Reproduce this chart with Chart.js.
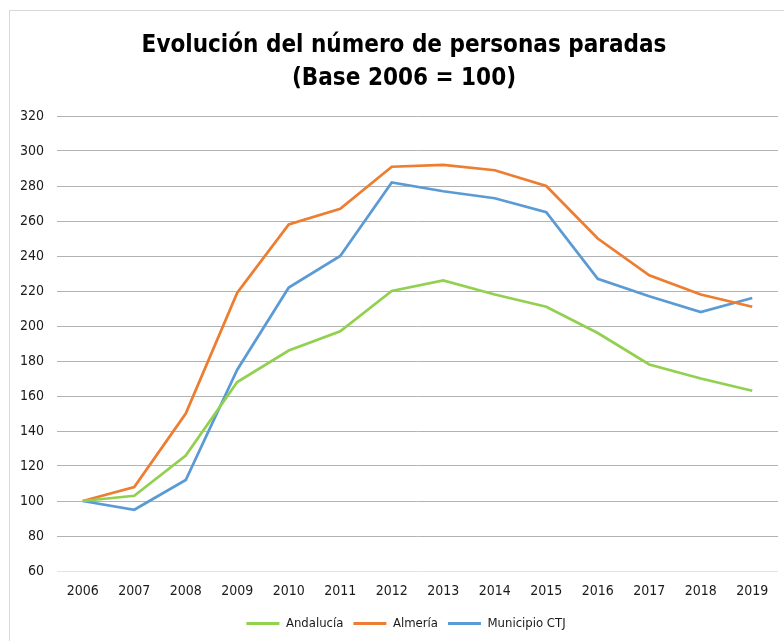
<!DOCTYPE html>
<html>
<head>
<meta charset="utf-8">
<script src="https://cdn.jsdelivr.net/npm/chart.js@4/dist/chart.umd.min.js"></script>
<style>
  html, body { margin: 0; padding: 0; background: #ffffff; }
  #wrap { position: relative; width: 784px; height: 641px; overflow: hidden; }
  #frame { position: absolute; left: 9px; top: 10px; width: 800px; height: 700px; border: 1px solid #d9d9d9; pointer-events: none; }
  canvas { position: absolute; left: 0; top: 0; }
</style>
</head>
<body>
<div id="wrap">
  <div id="frame"></div>
  <canvas id="c" width="784" height="641"></canvas>
</div>
<script>
const titleLines = ['Evolución del número de personas paradas', '(Base 2006 = 100)'];
const years = ['2006','2007','2008','2009','2010','2011','2012','2013','2014','2015','2016','2017','2018','2019'];
const andalucia = [100, 103, 126, 168, 186, 197, 220, 226, 218, 211, 196, 178, 170, 163];
const almeria = [100, 108, 150, 219, 258, 267, 291, 292, 289, 280, 250, 229, 218, 211];
const municipioCTJ = [100, 95, 112, 175, 222, 240, 282, 277, 273, 265, 227, 217, 208, 216];
const yMin = 60, yMax = 320, yStep = 20;

const FONT = "'Liberation Sans Narrow', 'DejaVu Sans Condensed', 'Liberation Sans', sans-serif";

const shiftBoxes = {
  id: 'shiftBoxes',
  afterLayout(chart) {
    if (chart.legend) { chart.legend.left += 34; }
    if (chart.titleBlock) { chart.titleBlock.left += 30; }
  }
};

new Chart(document.getElementById('c'), {
  type: 'line',
  data: {
    labels: years,
    datasets: [
      { label: 'Andalucía', data: andalucia, borderColor: '#92d050', backgroundColor: '#92d050' },
      { label: 'Almería', data: almeria, borderColor: '#ed7d31', backgroundColor: '#ed7d31' },
      { label: 'Municipio CTJ', data: municipioCTJ, borderColor: '#5b9bd5', backgroundColor: '#5b9bd5' }
    ]
  },
  plugins: [shiftBoxes],
  options: {
    responsive: false,
    animation: false,
    devicePixelRatio: 1,
    layout: { padding: { left: 0, right: 6, top: 0, bottom: 1 } },
    elements: {
      line: { borderWidth: 2.75, tension: 0, borderCapStyle: 'butt', borderJoinStyle: 'miter' },
      point: { radius: 0, hoverRadius: 0 }
    },
    plugins: {
      tooltip: { enabled: false },
      title: {
        display: true,
        text: titleLines,
        color: '#000000',
        font: { family: FONT, size: 24, weight: 'bold', lineHeight: 33 / 24 },
        padding: { top: 29, bottom: 21 }
      },
      legend: {
        position: 'bottom',
        labels: {
          color: '#1a1a1a',
          font: { family: FONT, size: 13 },
          boxWidth: 33,
          boxHeight: 3,
          padding: 10,
          generateLabels: (chart) => {
            const items = Chart.defaults.plugins.legend.labels.generateLabels(chart);
            items.forEach(it => { it.lineWidth = 0; it.fillStyle = it.strokeStyle; });
            return items;
          }
        }
      }
    },
    scales: {
      x: {
        offset: true,
        grid: { display: false, drawTicks: false },
        border: { display: false },
        ticks: { color: '#1a1a1a', font: { family: FONT, size: 14 }, padding: 12, maxRotation: 0, autoSkip: false },
        afterFit: (s) => { s.height = 36; }
      },
      y: {
        min: yMin,
        max: yMax,
        grid: {
          drawTicks: false,
          color: (ctx) => (ctx.tick && ctx.tick.value === yMin) ? '#e3e3e3' : '#b2b2b2',
          lineWidth: 1
        },
        border: { display: false },
        ticks: { stepSize: yStep, color: '#1a1a1a', font: { family: FONT, size: 14 }, padding: 13 },
        afterFit: (s) => { s.width = 57; }
      }
    }
  }
});
</script>
</body>
</html>
